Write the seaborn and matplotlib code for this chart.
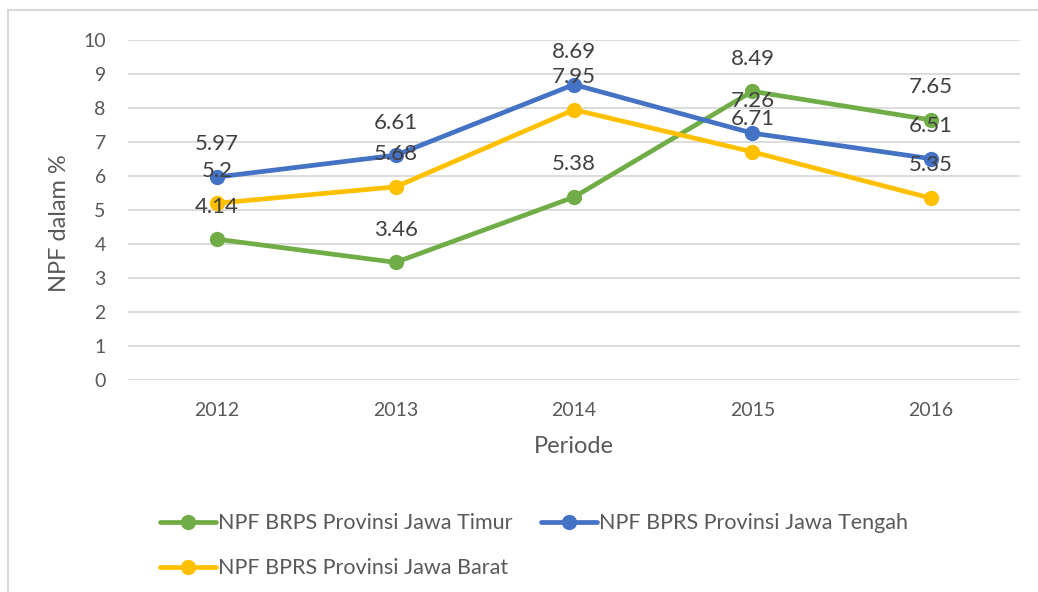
import pandas as pd
import matplotlib.pyplot as plt
import seaborn as sns
from matplotlib.lines import Line2D

periode = ['2012', '2013', '2014', '2015', '2016']
jawa_timur = [4.14, 3.46, 5.38, 8.49, 7.65]
jawa_tengah = [5.97, 6.61, 8.69, 7.26, 6.51]
jawa_barat = [5.2, 5.68, 7.95, 6.71, 5.35]

series_names = ['NPF BRPS Provinsi Jawa Timur',
                'NPF BPRS Provinsi Jawa Tengah',
                'NPF BPRS Provinsi Jawa Barat']
colors = ['#70AD47', '#4472C4', '#FFC000']

rows = []
for name, vals in zip(series_names, [jawa_timur, jawa_tengah, jawa_barat]):
    for p, v in zip(periode, vals):
        rows.append({'Periode': p, 'NPF': v, 'Seri': name})
df = pd.DataFrame(rows)

sns.set_theme(style='white')
plt.rcParams['font.family'] = ['Lato', 'DejaVu Sans']
text_color = '#595959'

fig = plt.figure(figsize=(10.38, 5.92), dpi=100)
ax = fig.add_axes([128 / 1038, 1 - 380 / 592, 892 / 1038, 340 / 592])

sns.lineplot(data=df, x='Periode', y='NPF', hue='Seri', palette=colors,
             marker='o', markersize=11, markeredgewidth=0, linewidth=3.4,
             sort=False, legend=False, ax=ax)

for name, vals, c in zip(series_names, [jawa_timur, jawa_tengah, jawa_barat], colors):
    for i, v in enumerate(vals):
        ax.annotate(f'{v:g}', (i, v), xytext=(0, 23.5), textcoords='offset points',
                    ha='center', va='center', fontsize=16, color='#404040')

ax.set_xlim(-0.5, 4.5)
ax.set_ylim(0, 10)
ax.set_yticks(range(0, 11))
ax.yaxis.grid(True, color='#D9D9D9', linewidth=1.3)
ax.set_axisbelow(True)
for s in ax.spines.values():
    s.set_visible(False)
ax.tick_params(axis='both', length=0, labelsize=14, colors=text_color)
ax.tick_params(axis='y', pad=16)
ax.tick_params(axis='x', pad=16)
ax.set_xlabel('Periode', fontsize=17, color=text_color)
ax.set_ylabel('NPF dalam %', fontsize=17, color=text_color)
ax.xaxis.set_label_coords(0.5, -0.165)
ax.yaxis.set_label_coords(-0.065, 0.46)

# legend filled column-wise: Timur, Barat | Tengah
order = [0, 2, 1]
handles = [Line2D([0], [0], color=colors[k], linewidth=3.4, marker='o',
                  markersize=11, markeredgewidth=0) for k in order]
fig.legend(handles, [series_names[k] for k in order], loc='upper left', ncol=2,
           frameon=False, bbox_to_anchor=(141 / 1038, 1 - 494 / 592), fontsize=15.5,
           handlelength=2.6, handletextpad=0.1, columnspacing=1.3,
           labelspacing=1.15, numpoints=1, labelcolor=text_color)

# chart border
fig.add_artist(Line2D([8 / 1038, 1.0], [1 - 10 / 592] * 2, color='#D9D9D9', linewidth=1.5))
fig.add_artist(Line2D([8 / 1038] * 2, [0, 1 - 10 / 592], color='#D9D9D9', linewidth=1.5))

fig.savefig('out.png', dpi=100)
